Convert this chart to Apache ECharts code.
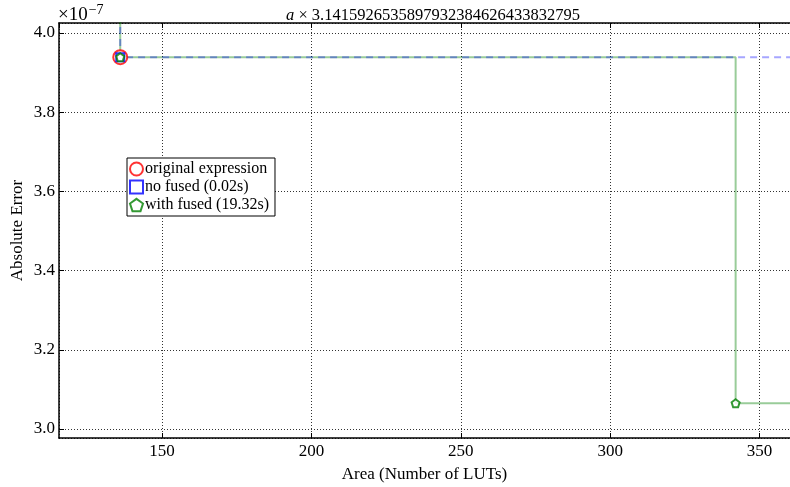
<!DOCTYPE html>
<html>
<head>
<meta charset="utf-8">
<script src="https://cdn.jsdelivr.net/npm/echarts@6/dist/echarts.min.js"></script>
<style>
  html, body { margin: 0; padding: 0; background: #fff; }
  #chart { width: 790px; height: 487px; }
</style>
</head>
<body>
<div id="chart"></div>
<script>
// data (area in LUTs, absolute error)
const originalPoint = [[136, 3.939e-7]];
const noFusedPoints = [[136, 3.939e-7]];
const withFusedPoints = [[136, 3.939e-7], [342, 3.065e-7]];
// pareto step lines, the first point runs off the top of the axes
const noFusedFront = [[136, 4.5e-7], [136, 3.939e-7], [400, 3.939e-7]];
const withFusedFront = [[136, 4.5e-7], [136, 3.939e-7], [342, 3.939e-7], [342, 3.065e-7], [400, 3.065e-7]];
const seriesNames = ["original expression", "no fused (0.02s)", "with fused (19.32s)"];

const FONT = "Liberation Serif";
const pentagon = "path://M0,-1L0.951,-0.309L0.588,0.809L-0.588,0.809L-0.951,-0.309Z";

const chart = echarts.init(document.getElementById("chart"));

const gridLine = { show: true, lineStyle: { color: "#333", type: [1, 2], width: 1 } };

const option = {
  animation: false,
  backgroundColor: "#fff",
  textStyle: { fontFamily: FONT },
  title: {
    text: "{i|a} × 3.1415926535897932384626433832795",
    left: 428,
    textAlign: "center",
    top: 2,
    textStyle: {
      fontFamily: FONT,
      fontWeight: "normal",
      fontSize: 16.5,
      color: "#000",
      rich: { i: { fontStyle: "italic", fontFamily: FONT, fontSize: 16.5 } }
    }
  },
  graphic: [
    {
      type: "text",
      left: 58,
      top: 3,
      style: {
        text: "×10{s|−7}",
        font: "19px 'Liberation Serif'",
        fill: "#000",
        rich: { s: { fontSize: 14, fontFamily: FONT, verticalAlign: "top", padding: [0, 0, 10, 1] } }
      }
    }
  ],
  grid: { left: 59, right: 0, top: 23, bottom: 49, outerBoundsMode: "none", containLabel: false },
  legend: {
    orient: "vertical",
    left: 127,
    top: 158,
    padding: [3, 6, 3, 2],
    itemGap: 2,
    itemWidth: 13,
    itemHeight: 13,
    backgroundColor: "#fff",
    borderColor: "#000",
    borderWidth: 1,
    borderRadius: 0,
    textStyle: { fontFamily: FONT, fontSize: 16, color: "#000", padding: [0, 0, 0, -3] },
    data: [
      { name: seriesNames[0], icon: "circle" },
      { name: seriesNames[1], icon: "rect" },
      { name: seriesNames[2], icon: pentagon }
    ]
  },
  xAxis: [
    {
      type: "value",
      min: 115.5,
      max: 360.2,
      name: "Area (Number of LUTs)",
      nameLocation: "middle",
      nameGap: 28,
      nameTextStyle: { fontFamily: FONT, fontSize: 17, color: "#000" },
      axisLine: { show: true, lineStyle: { color: "#000", width: 1.5 } },
      axisTick: { show: true, inside: true, length: 5, lineStyle: { color: "#000" } },
      axisLabel: { showMinLabel: false, showMaxLabel: false, fontFamily: FONT, fontSize: 17, color: "#000", margin: 5 },
      splitLine: gridLine
    },
    {
      type: "value",
      position: "top",
      min: 115.5,
      max: 360.2,
      axisLine: { show: true, lineStyle: { color: "#000", width: 1.5 } },
      axisTick: { show: true, inside: true, length: 5, lineStyle: { color: "#000" } },
      axisLabel: { show: false },
      splitLine: { show: false }
    }
  ],
  yAxis: {
    type: "value",
    min: 2.9773e-7,
    max: 4.0253e-7,
    name: "Absolute Error",
    nameLocation: "middle",
    nameGap: 33,
    nameMoveOverlap: false,
    nameTextStyle: { fontFamily: FONT, fontSize: 17, color: "#000" },
    axisLine: { show: true, lineStyle: { color: "#000", width: 1.5 } },
    axisTick: { show: true, inside: true, length: 5, lineStyle: { color: "#000" } },
    axisLabel: {
      showMinLabel: false,
      showMaxLabel: false,
      fontFamily: FONT,
      fontSize: 17,
      color: "#000",
      margin: 4,
      formatter: v => (v * 1e7).toFixed(1)
    },
    splitLine: gridLine
  },
  series: [
    {
      type: "line",
      data: withFusedFront,
      symbol: "none",
      lineStyle: { color: "rgba(0,128,0,0.4)", width: 2 },
      silent: true,
      z: 1
    },
    {
      type: "line",
      data: noFusedFront,
      symbol: "none",
      lineStyle: { color: "rgba(0,0,255,0.35)", width: 2, type: [7, 5] },
      silent: true,
      z: 2
    },
    {
      name: seriesNames[0],
      type: "scatter",
      data: originalPoint,
      symbol: "circle",
      symbolSize: 14,
      itemStyle: { color: "#fff", borderColor: "#ff0000", borderWidth: 2 },
      z: 3
    },
    {
      name: seriesNames[1],
      type: "scatter",
      data: noFusedPoints,
      symbol: "rect",
      symbolSize: 8,
      itemStyle: { color: "#fff", borderColor: "#0000ff", borderWidth: 2 },
      z: 4
    },
    {
      name: seriesNames[2],
      type: "scatter",
      data: withFusedPoints,
      symbol: pentagon,
      symbolSize: 8,
      itemStyle: { color: "#fff", borderColor: "#008000", borderWidth: 2 },
      z: 5
    }
  ]
};

chart.setOption(option);
</script>
</body>
</html>
